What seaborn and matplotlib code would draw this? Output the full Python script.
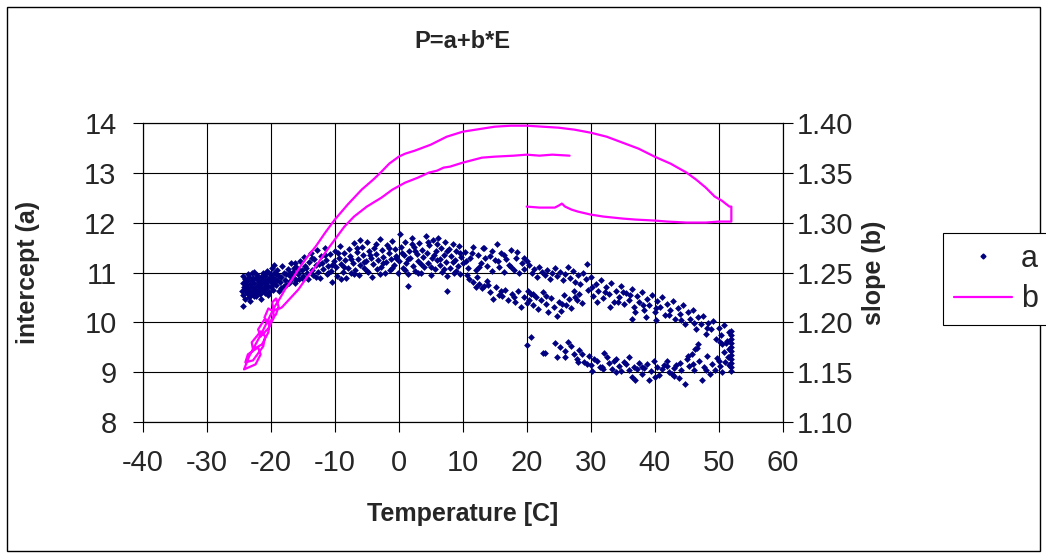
import numpy as np
import pandas as pd
import seaborn as sns
import matplotlib.pyplot as plt
from matplotlib.lines import Line2D
from matplotlib.patches import Rectangle

# --- intercept a (scatter) ---
# left blob, T -24.5 .. -15
a_t1 = [-24.5, -24.4, -24.3, -24.2, -24.1, -24.0, -24.4, -23.9, -23.8, -23.7, -23.6, -23.5, -23.4, -23.3,
        -23.2, -23.1, -23.0, -22.9, -22.8, -22.7, -22.6, -22.5, -22.4, -22.3, -22.2, -22.1, -22.0, -21.9,
        -21.8, -21.7, -21.6, -21.5, -21.4, -21.3, -21.2, -21.1, -21.0, -20.9, -20.8, -20.7, -20.6, -20.5,
        -20.4, -20.3, -20.2, -20.1, -20.0, -19.9, -19.8, -19.7, -19.6, -19.5, -19.4, -19.2, -19.0, -18.8,
        -18.6, -18.4, -18.2, -18.0, -17.8, -17.6, -17.4, -17.2, -17.0, -16.8, -16.6, -16.4, -16.2, -16.0,
        -15.8, -15.6, -15.4, -15.2, -15.0, -23.0, -19.5, -16.2]
a_v1 = [10.62, 10.78, 10.55, 10.70, 10.86, 10.64, 10.32, 10.74, 10.58, 10.82, 10.68, 10.50, 10.90, 10.62,
        10.76, 10.54, 10.84, 10.70, 10.60, 11.02, 10.78, 10.66, 10.88, 10.52, 10.72, 10.94, 10.62, 10.80,
        10.70, 10.56, 10.90, 10.76, 10.64, 10.98, 10.84, 10.70, 10.58, 10.92, 10.78, 10.66, 11.04, 10.86,
        10.72, 10.60, 10.96, 10.82, 10.70, 11.10, 10.90, 10.76, 10.64, 11.00, 10.86, 10.74, 11.06, 10.92,
        10.80, 10.68, 11.14, 10.98, 10.84, 10.74, 11.08, 10.94, 10.82, 11.20, 11.02, 10.88, 10.78, 11.12,
        10.96, 10.86, 11.24, 11.06, 10.92, 11.00, 11.16, 11.20]

# middle band, T -15 .. 0
a_t2 = [-14.8, -14.6, -14.4, -14.2, -14.0, -13.8, -13.6, -13.4, -13.2, -13.0, -12.8, -12.6, -12.4, -12.2,
        -12.0, -11.8, -11.6, -11.4, -11.2, -11.0, -10.8, -10.6, -10.4, -10.2, -10.0, -9.8, -9.6, -9.4,
        -9.2, -9.0, -8.8, -8.6, -8.4, -8.2, -8.0, -7.8, -7.6, -7.4, -7.2, -7.0, -6.8, -6.6, -6.4, -6.2,
        -6.0, -5.8, -5.6, -5.4, -5.2, -5.0, -4.8, -4.6, -4.4, -4.2, -4.0, -3.8, -3.6, -3.4, -3.2, -3.0,
        -2.8, -2.6, -2.4, -2.2, -2.0, -1.8, -1.6, -1.4, -1.2, -1.0, -0.8, -0.6, -0.4, -0.2, 0.0, 0.2]
a_v2 = [11.32, 11.14, 10.98, 10.86, 11.22, 11.40, 11.06, 10.94, 11.28, 11.16, 11.46, 11.02, 10.88, 11.34,
        11.20, 11.08, 11.50, 11.26, 10.96, 11.14, 11.38, 11.04, 10.80, 11.24, 11.44, 11.12, 10.92, 11.30,
        11.54, 11.18, 11.02, 11.40, 11.26, 10.88, 11.10, 11.48, 11.34, 11.00, 11.20, 11.60, 11.06, 11.42,
        11.28, 10.94, 11.16, 11.52, 11.36, 11.10, 11.24, 11.62, 11.02, 11.44, 11.30, 10.90, 11.18, 11.50,
        11.38, 11.08, 11.26, 11.68, 11.12, 11.46, 11.32, 10.98, 11.22, 11.56, 11.40, 11.06, 11.28, 11.64,
        11.16, 11.48, 11.34, 11.00, 11.24, 11.78]

# T 0 .. 10
a_t3 = [0.4, 0.6, 0.8, 1.0, 1.2, 1.4, 1.5, 1.6, 1.8, 2.0, 2.2, 2.4, 2.6, 2.8, 3.0, 3.2, 3.4, 3.6, 3.8,
        4.0, 4.2, 4.4, 4.6, 4.8, 5.0, 5.2, 5.4, 5.6, 5.8, 6.0, 6.2, 6.4, 6.6, 6.8, 7.0, 7.2, 7.4, 7.5,
        7.6, 7.8, 8.0, 8.2, 8.4, 8.6, 8.8, 9.0, 9.2, 9.4, 9.6, 9.8, 10.0]
a_v3 = [11.52, 11.10, 11.36, 11.62, 11.20, 10.96, 10.72, 11.44, 11.30, 11.70, 11.14, 11.52, 11.04, 11.38,
        11.24, 11.60, 10.98, 11.46, 11.32, 11.12, 11.74, 11.40, 11.20, 11.56, 10.94, 11.30, 11.66, 11.08,
        11.44, 11.26, 11.70, 11.16, 11.50, 11.02, 11.36, 11.62, 11.22, 10.62, 10.92, 11.48, 11.10, 11.34,
        11.58, 11.00, 11.26, 11.44, 11.14, 11.54, 10.96, 11.32, 11.20]

# T 10 .. 20, upper cloud and the strand that drops away
a_t4 = [10.4, 10.8, 11.2, 11.6, 12.0, 12.4, 12.8, 13.2, 13.4, 13.8, 14.2, 14.6, 15.0, 15.3, 15.6, 16.0,
        16.4, 16.8, 17.2, 17.6, 18.0, 18.4, 18.8, 19.2, 19.6, 20.0,
        10.6, 11.0, 11.6, 12.2, 12.6, 13.0, 13.4, 13.8, 14.2, 14.8, 15.2, 15.6, 16.1, 16.6, 17.0, 17.7,
        18.2, 18.6, 19.1, 19.5, 20.0]
a_v4 = [11.42, 11.10, 11.30, 11.52, 11.06, 11.36, 11.20, 11.50, 11.50, 11.14, 11.34, 11.04, 11.26, 11.58,
        11.12, 11.40, 11.02, 11.28, 11.16, 11.46, 11.06, 11.30, 11.00, 11.20, 11.08, 11.24,
        10.94, 10.86, 10.80, 10.90, 10.76, 10.68, 10.72, 10.82, 10.60, 10.46, 10.70, 10.54, 10.52, 10.64,
        10.44, 10.56, 10.40, 10.62, 10.30, 10.50, 10.38]

# T 20 .. 29, two strands
a_t5 = [20.4, 20.8, 21.2, 21.6, 22.0, 22.4, 22.8, 23.2, 23.6, 24.0, 24.4, 24.8, 25.2, 25.6, 26.0, 26.4,
        26.8, 27.2, 27.6, 28.0, 28.4, 28.8, 29.2, 29.4,
        20.2, 20.4, 20.6, 21.0, 21.4, 21.8, 22.2, 22.6, 23.0, 23.4, 23.8, 24.2, 24.7, 25.0, 25.4, 25.8,
        26.2, 26.6, 27.0, 27.4, 27.8, 28.2, 28.6]
a_v5 = [11.16, 10.98, 11.08, 10.90, 11.12, 11.02, 10.94, 11.06, 10.86, 11.00, 11.10, 10.92, 11.02, 10.84,
        10.96, 11.12, 10.88, 11.04, 10.80, 10.94, 10.76, 11.00, 10.86, 11.18,
        10.62, 10.44, 10.56, 10.34, 10.50, 10.26, 10.44, 10.60, 10.36, 10.20, 10.48, 10.30, 10.12, 10.40,
        10.22, 10.54, 10.34, 10.46, 10.28, 10.62, 10.44, 10.56, 10.38]

# upper band going down to 52 C
a_t6 = [29.6, 30.0, 30.4, 30.8, 31.2, 31.6, 32.0, 32.4, 32.8, 33.2, 33.6, 34.0, 34.4, 34.8, 35.2, 35.6,
        36.0, 36.4, 36.8, 37.2, 37.6, 38.0, 38.4, 38.8, 39.2, 39.6, 40.0, 40.4, 40.8, 41.2, 41.6, 42.0,
        42.4, 42.8, 43.2, 43.6, 44.0, 44.4, 44.8, 45.2, 45.6, 46.0, 46.4, 46.8, 47.2, 47.6, 48.0, 48.4,
        48.8, 49.2, 49.6, 50.0, 50.4, 50.8, 51.2, 51.6, 36.4, 38.6, 40.2]
a_v6 = [10.64, 10.90, 10.52, 10.76, 10.62, 10.84, 10.48, 10.70, 10.56, 10.78, 10.40, 10.62, 10.50, 10.72,
        10.36, 10.58, 10.44, 10.66, 10.30, 10.52, 10.40, 10.60, 10.24, 10.46, 10.34, 10.54, 10.20, 10.42,
        10.30, 10.50, 10.14, 10.36, 10.24, 10.42, 10.06, 10.28, 10.16, 10.34, 9.96, 10.20, 10.06, 10.24,
        9.86, 10.10, 9.96, 10.12, 9.76, 9.98, 9.86, 10.02, 9.66, 9.88, 9.74, 9.94, 9.58, 9.80,
        10.06, 10.10, 10.04]

# vertical run at 52 C
a_t7 = [52.0, 52.0, 52.0, 52.0, 52.0, 52.0, 52.0, 52.0, 52.0, 52.0, 52.0, 51.6, 51.4, 51.7, 51.3, 50.8,
        51.0, 50.6]
a_v7 = [9.82, 9.74, 9.66, 9.58, 9.50, 9.42, 9.34, 9.26, 9.18, 9.10, 9.02, 9.46, 9.30, 9.14, 9.62, 9.40,
        9.20, 9.56]

# lower band, 20 .. 51 C
a_t8 = [20.1, 20.6, 22.6, 22.9, 24.4, 24.7, 25.2, 26.0, 26.5, 27.0, 27.4, 27.8, 28.2, 28.6, 29.0, 29.4,
        29.8, 30.2, 30.6, 31.0, 31.4, 31.7, 32.1, 32.5, 32.9, 33.3, 33.7, 34.0, 34.4, 34.8, 35.2, 35.6,
        36.0, 36.4, 36.8, 37.2, 37.6, 38.0, 38.4, 38.8, 39.2, 39.5, 39.9, 40.3, 40.7, 41.1, 41.5, 41.9,
        42.3, 42.7, 43.1, 43.4, 43.8, 44.2, 44.7, 45.0, 45.4, 45.8, 46.2, 46.6, 47.0, 47.4, 47.8, 48.2,
        48.6, 49.0, 49.4, 49.8, 50.2, 50.6, 45.3, 46.3, 46.8]
a_v8 = [9.54, 9.70, 9.38, 9.38, 9.58, 9.30, 9.50, 9.42, 9.60, 9.52, 9.36, 9.26, 9.44, 9.36, 9.20, 9.16,
        9.32, 9.02, 9.26, 9.22, 9.10, 9.10, 9.38, 9.30, 9.18, 9.06, 9.22, 9.26, 9.12, 9.02, 9.20, 9.16,
        9.30, 8.90, 9.10, 9.06, 9.18, 8.96, 9.08, 9.16, 8.84, 9.02, 9.22, 9.10, 8.94, 9.06, 9.14, 9.22,
        9.00, 8.96, 9.08, 9.14, 8.88, 9.04, 8.76, 9.26, 9.12, 9.36, 9.04, 9.48, 9.22, 8.84, 9.10, 9.32,
        8.96, 9.16, 9.04, 9.28, 9.12, 9.00, 9.32, 9.46, 9.56]

# extra points filling the dense parts of the cloud
a_t9 = [-24.3, -24.0, -23.6, -23.2, -22.8, -22.4, -22.0, -21.6, -21.2, -20.8, -20.4, -20.0, -19.6, -19.2,
        -18.8, -18.4, -18.0, -17.6, -17.2, -16.8, -16.4, -16.0, -15.6, -15.2, -23.8, -22.6, -21.0, -19.0,
        -17.0,
        -14.5, -13.5, -12.5, -11.5, -10.5, -9.5, -8.5, -7.5, -6.5, -5.5, -4.5, -3.5, -2.5, -1.5, -0.5,
        0.5, 1.5, 2.5, 3.5, 4.5, 5.5, 6.5, 7.5, 8.5, 9.5, -13.0, -11.0, -9.0, -7.0, -5.0, -3.0, -1.0,
        1.0, 3.0, 5.0, 7.0, 9.0, -6.0, 2.0, 6.0, 10.5, 11.5, 12.5, 13.5, 14.5, 15.5, 16.5, 17.5, 18.5,
        19.5,
        12.0, 14.0, 16.0, 18.0, 21.0, 23.0, 25.5, 27.5,
        30.2, 32.2, 34.2, 36.2, 38.2, 40.2, 42.2, 44.2, 46.2, 48.2, 50.2, 31.0, 33.0, 35.0, 37.0,
        26.0, 28.0, 30.0, 32.0, 34.0, 36.0, 38.0, 40.0, 42.0, 44.0, 46.0, 48.0, 50.0, 37.0, 43.0]
a_v9 = [10.92, 10.46, 10.96, 10.42, 10.88, 10.58, 10.84, 10.46, 10.66, 10.98, 10.54, 10.90, 10.80, 10.96,
        10.62, 10.90, 10.72, 10.96, 10.78, 10.92, 11.10, 10.84, 11.06, 10.88, 10.66, 10.52, 10.80, 10.84,
        11.00,
        11.10, 11.30, 11.18, 11.36, 11.16, 11.40, 11.12, 11.28, 11.50, 11.22, 11.36, 11.58, 11.20, 11.50,
        11.30, 11.40, 11.28, 11.44, 11.18, 11.62, 11.36, 11.28, 11.44, 11.22, 11.40, 10.90, 11.00, 10.86,
        10.96, 11.04, 10.96, 11.10, 11.06, 11.00, 11.12, 11.08, 11.04, 11.66, 11.58, 11.58, 11.24, 11.40,
        11.12, 11.30, 11.44, 11.24, 11.36, 11.12, 11.42, 11.30,
        10.70, 10.74, 10.62, 10.50, 10.56, 10.52, 10.36, 10.50,
        10.70, 10.60, 10.40, 10.54, 10.34, 10.28, 10.14, 10.04, 9.98, 9.88, 9.60, 10.40, 10.30, 10.60,
        10.20,
        9.30, 9.20, 9.14, 9.06, 9.00, 9.04, 9.10, 8.90, 9.12, 9.18, 9.16, 9.04, 9.22, 8.84, 8.92]

# --- slope b (line), in the order it was recorded ---
b_temp = [20.0, 22.0, 24.4, 25.0, 25.5, 26.0, 27.0, 28.0, 30.0, 32.0, 35.0, 37.0, 40.0, 42.0, 45.0, 48.0,
          50.0, 52.0, 52.0,
          51.7, 50.5, 49.4, 48.0, 46.5, 45.0, 42.5, 40.0, 37.5, 35.0, 32.5, 30.0, 27.5, 25.0, 22.5, 20.0,
          17.5, 15.0, 13.0, 10.0, 7.5, 5.0, 2.5, 1.0, 0.0, -1.5, -2.7, -4.0, -5.8, -8.0, -10.0, -11.5,
          -13.0, -14.5, -15.7, -16.8, -17.8, -18.6, -19.4, -20.4, -21.4, -22.4, -23.4, -24.2,
          -22.4, -21.6, -22.0, -23.6, -24.0, -22.8, -21.2, -20.9, -21.6, -23.0, -22.8, -21.4, -20.4,
          -20.2, -21.0, -22.0, -21.6, -20.4, -19.6, -19.6, -20.4, -21.0, -20.4, -19.2, -18.8, -19.2, -19.8,
          -19.6, -18.6,
          -18.3, -17.0, -15.7, -14.5, -13.0, -11.5, -10.0, -8.5, -7.0, -5.0, -2.7, -1.0, 1.0, 3.0, 4.7,
          6.0, 7.0, 8.0, 10.0, 13.0, 15.0, 18.0, 20.0, 22.0, 24.0, 26.7]
b_val = [1.316, 1.315, 1.315, 1.317, 1.319, 1.316, 1.313, 1.311, 1.308, 1.306, 1.304, 1.303, 1.302, 1.301,
         1.300, 1.300, 1.301, 1.301, 1.316,
         1.316, 1.322, 1.326, 1.335, 1.343, 1.350, 1.359, 1.366, 1.374, 1.380, 1.386, 1.390, 1.393, 1.395,
         1.396, 1.397, 1.397, 1.396, 1.394, 1.391, 1.386, 1.378, 1.372, 1.369, 1.366, 1.359, 1.351, 1.343,
         1.333, 1.318, 1.303, 1.290, 1.276, 1.264, 1.253, 1.242, 1.233, 1.224, 1.216, 1.203, 1.190, 1.178,
         1.166, 1.153,
         1.158, 1.168, 1.175, 1.168, 1.160, 1.162, 1.176, 1.186, 1.191, 1.180, 1.173, 1.178, 1.190,
         1.198, 1.203, 1.193, 1.186, 1.194, 1.204, 1.211, 1.214, 1.205, 1.199, 1.208, 1.216, 1.224, 1.220,
         1.212, 1.214,
         1.215, 1.224, 1.233, 1.244, 1.256, 1.270, 1.283, 1.296, 1.306, 1.316, 1.325, 1.333, 1.340, 1.345,
         1.350, 1.352, 1.355, 1.356, 1.360, 1.365, 1.366, 1.367, 1.368, 1.367, 1.368, 1.367]

x_ticks = [-40, -30, -20, -10, 0, 10, 20, 30, 40, 50, 60]
a_ticks = [8, 9, 10, 11, 12, 13, 14]
b_ticks = [1.10, 1.15, 1.20, 1.25, 1.30, 1.35, 1.40]

df_a = pd.DataFrame({
    'T': a_t1 + a_t2 + a_t3 + a_t4 + a_t5 + a_t6 + a_t7 + a_t8 + a_t9,
    'a': a_v1 + a_v2 + a_v3 + a_v4 + a_v5 + a_v6 + a_v7 + a_v8 + a_v9,
})
df_b = pd.DataFrame({'T': b_temp, 'b': b_val})

sns.set_theme(style='white')
plt.rcParams['font.family'] = ['Liberation Sans', 'DejaVu Sans']
plt.rcParams['axes.unicode_minus'] = False

W, H = 1046, 558
fig = plt.figure(figsize=(W / 100, H / 100), dpi=100)
ax = fig.add_axes([143 / W, 1 - 422.3 / H, 639.5 / W, 299.6 / H])
ax2 = ax.twinx()

navy = '#000080'
pink = '#FF00FF'

sns.scatterplot(data=df_a, x='T', y='a', ax=ax, color=navy, marker='D', s=12,
                linewidth=0, legend=False, zorder=3)
sns.lineplot(data=df_b, x='T', y='b', ax=ax2, sort=False, estimator=None,
             color=pink, linewidth=1.6, legend=False)

ax.set_xlim(-40, 60)
ax.set_ylim(8, 14)
ax2.set_ylim(1.10, 1.40)
ax.set_xticks(x_ticks)
ax.set_xticklabels([str(v) for v in x_ticks])
ax.set_yticks(a_ticks)
ax2.set_yticks(b_ticks)
ax2.set_yticklabels([f'{v:.2f}' for v in b_ticks])

ax.grid(True, color='black', linewidth=0.8)
ax.set_axisbelow(True)
for a_ in (ax, ax2):
    for sp in a_.spines.values():
        sp.set_color('black')
        sp.set_linewidth(0.8)
ax.tick_params(axis='both', direction='out', length=7, width=0.8, color='black',
               labelsize=21, pad=12, left=True, bottom=True)
ax2.tick_params(axis='y', direction='out', length=7, width=0.8, color='black',
                labelsize=21, pad=3, right=True)

ax.set_xlabel('Temperature [C]', fontsize=18, fontweight='bold')
ax.set_ylabel('intercept (a)', fontsize=18, fontweight='bold')
ax2.set_ylabel('slope (b)', fontsize=18, fontweight='bold')
ax.xaxis.set_label_coords(0.5, (422.3 - 514) / 299.6)
ax.xaxis.label.set_va('center')
ax.yaxis.set_label_coords((28 - 143) / 639.5, 0.5)
ax.yaxis.label.set_va('center')
ax2.yaxis.set_label_coords((874 - 143) / 639.5, 0.5)
ax2.yaxis.label.set_va('center')

fig.text(462 / W, 1 - 42 / H, 'P=a+b*E', ha='center', va='center',
         fontsize=17, fontweight='bold')

handles = [Line2D([], [], marker='D', color=navy, linestyle='none', markersize=2.5),
           Line2D([], [], color=pink, linewidth=1.6)]
leg = fig.legend(handles, ['a', 'b'], loc='upper left',
                 bbox_to_anchor=(943 / W, 1 - 233 / H), fontsize=22, frameon=True,
                 fancybox=False, edgecolor='black', framealpha=1, handlelength=1.9,
                 handletextpad=0.3, borderpad=0.35, labelspacing=0.35, borderaxespad=0)
leg.get_frame().set_linewidth(0.8)

fig.patches.append(Rectangle((7 / W, 7 / H), 1033 / W, 544 / H, transform=fig.transFigure,
                             fill=False, edgecolor='black', linewidth=1))

fig.savefig('out.png', dpi=100)
